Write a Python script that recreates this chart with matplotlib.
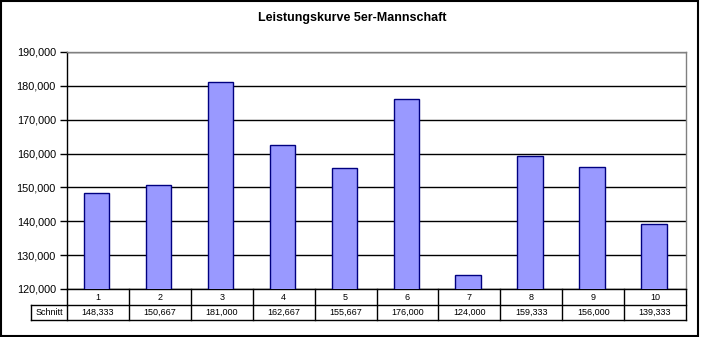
import matplotlib
matplotlib.use("Agg")
import matplotlib.pyplot as plt
from matplotlib.patches import Rectangle
from matplotlib.lines import Line2D

plt.rcParams['font.family'] = ['Liberation Sans', 'DejaVu Sans']

# data: average score per round
rounds = ['1', '2', '3', '4', '5', '6', '7', '8', '9', '10']
schnitt = [148333, 150667, 181000, 162667, 155667, 176000, 124000, 159333, 156000, 139333]
row_label = 'Schnitt'
title = 'Leistungskurve 5er-Mannschaft'

W, H = 703, 337
fig = plt.figure(figsize=(W / 100, H / 100), dpi=100)

# plot area in pixels
left, right, top, bottom = 67, 686, 52, 289
ax = fig.add_axes([left / W, 1 - bottom / H, (right - left) / W, (bottom - top) / H])

x = [i - 0.02 for i in range(len(rounds))]
ax.bar(x, schnitt, width=0.41, color='#9999FF', edgecolor='#000080', linewidth=1.0, zorder=3)

ax.set_xlim(-0.5, len(rounds) - 0.5)
ax.set_ylim(120000, 190000)
ax.set_yticks(range(120000, 190001, 10000))
ax.set_yticklabels(['{:,}'.format(v) for v in range(120000, 190001, 10000)], fontsize=7.8)
ax.tick_params(axis='y', length=5, width=1, direction='out', pad=3, colors='black')
ax.set_xticks([])
ax.yaxis.grid(True, color='black', linewidth=1)
ax.set_axisbelow(True)

for side in ['top', 'right']:
    ax.spines[side].set_color('#808080')
    ax.spines[side].set_linewidth(1)
ax.spines['left'].set_linewidth(1)
ax.spines['bottom'].set_linewidth(1)

# data table under the axis
ah = bottom - top
r1 = -16 / ah
r2 = -31 / ah
lab_left = (31 - left) / (right - left)
tkw = dict(transform=ax.transAxes, color='black', linewidth=1, clip_on=False)
ax.add_line(Line2D([0, 1], [r1, r1], **tkw))
ax.add_line(Line2D([lab_left, 1], [r2, r2], **tkw))
ax.add_line(Line2D([lab_left, 0], [r1, r1], **tkw))
ax.add_line(Line2D([lab_left, lab_left], [r1, r2], **tkw))
n = len(rounds)
for i in range(n + 1):
    xa = i / n
    ax.add_line(Line2D([xa, xa], [0, r2], **tkw))
for i, (r, v) in enumerate(zip(rounds, schnitt)):
    xc = (i + 0.5) / n
    ax.text(xc, r1 / 2, r, transform=ax.transAxes, ha='center', va='center', fontsize=6.5)
    ax.text(xc, (r1 + r2) / 2, '{:,}'.format(v), transform=ax.transAxes,
            ha='center', va='center', fontsize=6.5)
ax.text(lab_left / 2, (r1 + r2) / 2, row_label, transform=ax.transAxes,
        ha='center', va='center', fontsize=6.5)

fig.text(352 / W, 1 - 18 / H, title, ha='center', va='center', fontsize=9, fontweight='bold')

# chart border
fig.patches.append(Rectangle((0.5 / W, 1.5 / H), 697 / W, 334.5 / H, transform=fig.transFigure,
                             fill=False, edgecolor='black', linewidth=1.5))

fig.savefig('out.png', dpi=100)
